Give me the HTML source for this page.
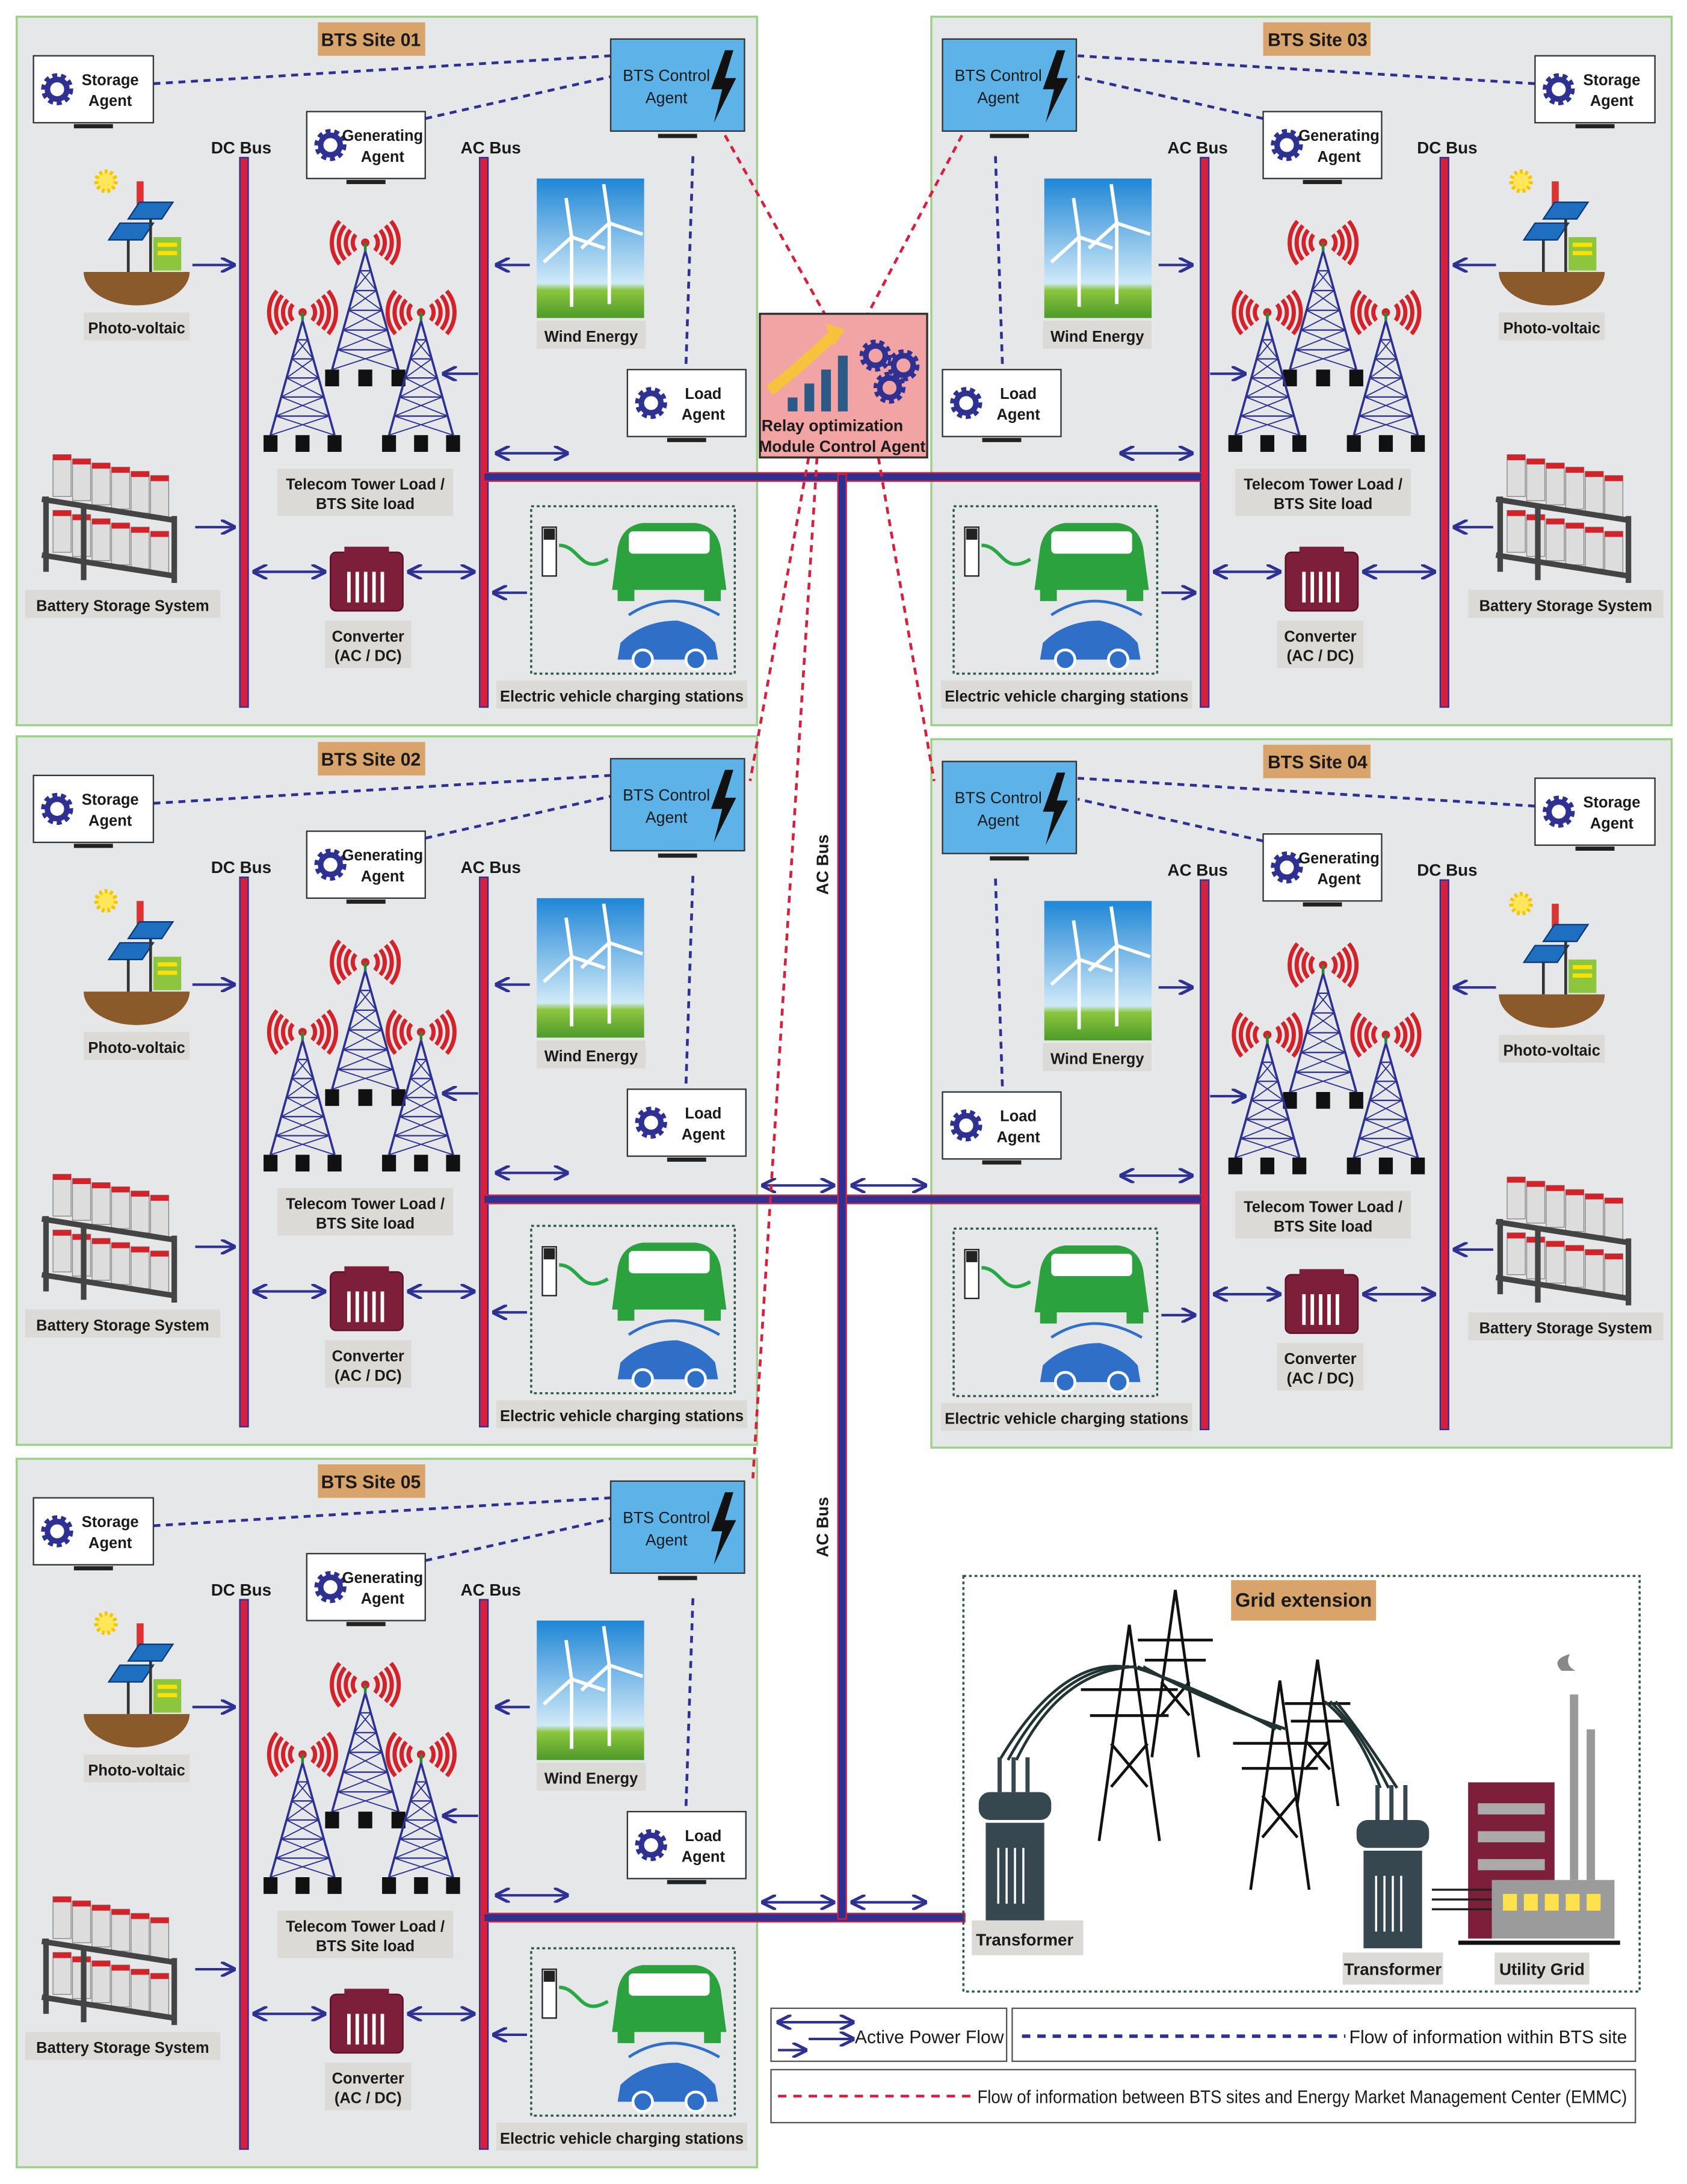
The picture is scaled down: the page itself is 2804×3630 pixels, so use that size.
<!DOCTYPE html>
<html><head><meta charset="utf-8"><style>
html,body{margin:0;padding:0;background:#fff}
svg{display:block}
text{font-family:"Liberation Sans",sans-serif;fill:#1a1a1a}
</style></head><body>
<svg id="s" width="2804" height="3630" viewBox="0 0 1210 1566" preserveAspectRatio="none" xmlns="http://www.w3.org/2000/svg">
<defs>
<marker id="ah" viewBox="0 0 10 10" refX="9" refY="5" markerWidth="6" markerHeight="6" orient="auto-start-reverse"><path d="M0,0 L10,5 L0,10" fill="none" stroke="#2e3192" stroke-width="2"/></marker>
<linearGradient id="sky" x1="0" y1="0" x2="0" y2="1"><stop offset="0" stop-color="#1f86d6"/><stop offset="0.75" stop-color="#cfe9f8"/><stop offset="0.8" stop-color="#8cc63f"/><stop offset="1" stop-color="#4e9a2a"/></linearGradient>
</defs>
<g id="root"></g>
</svg>
<script>
let o='';
const NAVY='#2e3192',RED='#d4213d';
function T(x,y,s,sz,anc,w,fill){return `<text x="${x}" y="${y}" font-size="${sz||12}" text-anchor="${anc||'middle'}" font-weight="${w||'bold'}" ${fill?`style="fill:${fill}"`:''}>${s}</text>`;}
function R(x,y,w,h,f,st,sw,extra){return `<rect x="${x}" y="${y}" width="${w}" height="${h}" fill="${f}" ${st?`stroke="${st}" stroke-width="${sw||1}"`:''} ${extra||''}/>`;}
function L(x1,y1,x2,y2,c,w,extra){return `<line x1="${x1}" y1="${y1}" x2="${x2}" y2="${y2}" stroke="${c}" stroke-width="${w||1}" ${extra||''}/>`;}
function arr(x1,y1,x2,y2,both){return `<line x1="${x1}" y1="${y1}" x2="${x2}" y2="${y2}" stroke="${NAVY}" stroke-width="1.8" marker-end="url(#ah)" ${both?'marker-start="url(#ah)"':''}/>`;}
function gear(cx,cy){return `<circle cx="${cx}" cy="${cy}" r="9" fill="none" stroke="${NAVY}" stroke-width="5" stroke-dasharray="3.2 2.4"/><circle cx="${cx}" cy="${cy}" r="7" fill="none" stroke="${NAVY}" stroke-width="4"/>`;}
function agent(x,y,w,h,l1,l2){return R(x,y,w,h,'#fff','#333',1)+gear(x+17,y+h/2)+T(x+w*0.64,y+h/2-3,l1,11)+T(x+w*0.64,y+h/2+12,l2,11)+R(x+w/2-14,y+h+1,28,3,'#222');}
function bts(x,y){return R(x,y,96,66,'#5db3e8','#333',1)+T(x+40,y+30,'BTS Control',11.5,'middle','normal')+T(x+40,y+46,'Agent',11.5,'middle','normal')+`<polygon points="${x+82},${y+8} ${x+72},${y+36} ${x+80},${y+36} ${x+74},${y+60} ${x+90},${y+28} ${x+82},${y+28} ${x+88},${y+8}" fill="#111"/>`+R(x+34,y+68,28,3,'#222');}
function arcs(cx,cy){let s='';for(const r of [9,14,19,24]){const a1=140*Math.PI/180,a2=220*Math.PI/180;
 const lx1=cx+r*Math.cos(a1),ly1=cy+r*Math.sin(a1),lx2=cx+r*Math.cos(a2),ly2=cy+r*Math.sin(a2);
 s+=`<path d="M${lx1},${ly1} A${r},${r} 0 0 1 ${lx2},${ly2}" fill="none" stroke="#d2232a" stroke-width="3"/>`;
 s+=`<path d="M${2*cx-lx1},${ly1} A${r},${r} 0 0 0 ${2*cx-lx2},${ly2}" fill="none" stroke="#d2232a" stroke-width="3"/>`;}
 return s+`<circle cx="${cx}" cy="${cy}" r="3" fill="#d2232a"/>`;}
function tower(cx,top,base){const w=(base-top)*0.28;let s=arcs(cx,top-6);
 s+=`<path d="M${cx},${top} L${cx-w},${base} M${cx},${top} L${cx+w},${base}" stroke="${NAVY}" stroke-width="1.6" fill="none"/>`;
 for(let i=1;i<6;i++){const t=i/6,y=top+(base-top)*t,hw=w*t;const t2=(i+1)/6,y2=top+(base-top)*t2,hw2=w*t2;
  s+=L(cx-hw,y,cx+hw,y,NAVY,1)+L(cx-hw,y,cx+hw2,y2,NAVY,0.8)+L(cx+hw,y,cx-hw2,y2,NAVY,0.8);}
 s+=L(cx,top,cx,top-6,'#2a8a3a',2);
 for(const dx of [-w,0,w])s+=R(cx+dx-5,base,10,12,'#111');return s;}
function pv(cx,cy){return `<path d="M${cx-38},${cy+15} A38,24 0 0 0 ${cx+38},${cy+15} Z" fill="#8a5a2b"/>`+
 `<circle cx="${cx-22}" cy="${cy-50}" r="7" fill="#ffe65a" stroke="#f5c400" stroke-width="3" stroke-dasharray="2 2"/>`+
 R(cx,cy-50,5,22,'#d33')+
 `<polygon points="${cx-12},${cy-20} ${cx+12},${cy-20} ${cx+4},${cy-8} ${cx-20},${cy-8}" fill="#1f6fc0" stroke="#0b3a7a"/>`+
 `<polygon points="${cx+2},${cy-35} ${cx+26},${cy-35} ${cx+18},${cy-23} ${cx-6},${cy-23}" fill="#1f6fc0" stroke="#0b3a7a"/>`+
 L(cx-6,cy-8,cx-6,cy+15,'#333',2)+L(cx+10,cy-23,cx+10,cy+15,'#333',2)+
 R(cx+12,cy-10,20,24,'#8cc63f')+R(cx+15,cy-6,14,3,'#ffe000')+R(cx+15,cy,14,3,'#ffe000');}
function wind(x,y){let s=R(x,y,77,100,'url(#sky)');
 for(const [tx,ty,h] of [[x+25,y+42,50],[x+52,y+32,58]]){s+=L(tx,ty,tx,ty+h,'#fff',2.5)+
  `<path d="M${tx},${ty} L${tx-4},${ty-28} M${tx},${ty} L${tx+24},${ty+8} M${tx},${ty} L${tx-20},${ty+18}" stroke="#fff" stroke-width="2.5"/>`;}
 return s;}
function battery(x,y){let s='';
 for(const yy of [y+8,y+48]){for(let i=0;i<6;i++){s+=R(x+8+i*14,yy+i*3,13,30,'#ddd','#888',0.6)+R(x+8+i*14,yy+i*3,13,4,'#d2232a');}}
 s+=`<path d="M${x},${y+40} L${x+95},${y+55} M${x},${y+80} L${x+95},${y+95} M${x+3},${y+38} L${x+3},${y+92} M${x+95},${y+52} L${x+95},${y+100} M${x+30},${y+45} L${x+30},${y+98}" stroke="#444" stroke-width="4" fill="none"/>`;return s;}
function conv(x,y){let s=R(x,y+4,52,42,'#7d1f3a','#5a1028',1,'rx="4"')+R(x+10,y,32,6,'#7d1f3a');
 for(let i=0;i<5;i++)s+=R(x+12+i*6,y+18,2.5,22,'#fff');return s;}
function ev(x,y){let s=R(x,y,146,120,'none','#2d5a45',1.5,'stroke-dasharray="2 2"');
 s+=R(x+8,y+15,10,35,'#fff','#222',1)+R(x+9,y+16,8,8,'#222');
 s+=`<path d="M${x+20},${y+28} C${x+35},${y+28} ${x+35},${y+50} ${x+55},${y+38}" stroke="#28a745" stroke-width="2.5" fill="none"/>`;
 s+=`<path d="M${x+58},${y+60} L${x+62},${y+30} Q${x+65},${y+14} ${x+80},${y+12} L${x+118},${y+12} Q${x+133},${y+14} ${x+136},${y+30} L${x+140},${y+60} Z" fill="#2ca23f"/>`+R(x+70,y+18,58,16,'#fff','none',0,'rx="3"')+R(x+62,y+58,12,10,'#2ca23f')+R(x+124,y+58,12,10,'#2ca23f');
 s+=`<path d="M${x+62},${y+110} L${x+64},${y+98} Q${x+80},${y+82} ${x+105},${y+82} Q${x+122},${y+86} ${x+132},${y+98} L${x+134},${y+110} Z" fill="#2f6fc7"/>`+`<circle cx="${x+80}" cy="${y+110}" r="7" fill="#2f6fc7" stroke="#fff" stroke-width="2"/><circle cx="${x+118}" cy="${y+110}" r="7" fill="#2f6fc7" stroke="#fff" stroke-width="2"/>`;
 s+=`<path d="M${x+70},${y+78} Q${x+100},${y+58} ${x+135},${y+78}" stroke="#2f6fc7" stroke-width="2" fill="none"/>`;return s;}
function lab(cx,y,w,lines){let s=R(cx-w/2,y,w,lines.length*14+6,'#dcdad6');lines.forEach((l,i)=>s+=T(cx,y+15+i*14,l,11));return s;}

function site(dy,title,m){
 const X=x=>m?1211-x:x, RX=(x,w)=>m?1211-x-w:x;
 let s='';
 s+=R(RX(12,531),12+dy,531,508,'#e6e7e9','#9fd08a',1.5);
 s+=R(RX(228,77),16+dy,77,24,'#d8a46c')+T(X(266),33+dy,title,13);
 s+=L(X(110),60+dy,X(438),40+dy,NAVY,2,'stroke-dasharray="5 4"')+L(X(305),85+dy,X(438),55+dy,NAVY,2,'stroke-dasharray="5 4"')+L(X(497),112+dy,X(492),262+dy,NAVY,2,'stroke-dasharray="5 4"');
 s+=agent(RX(24,86),40+dy,86,48,'Storage','Agent');
 s+=agent(RX(220,85),80+dy,85,48,'Generating','Agent');
 s+=agent(RX(450,85),265+dy,85,48,'Load','Agent');
 s+=bts(RX(438,97),28+dy);
 s+=R(RX(172,6),113+dy,6,394,RED,NAVY,1)+R(RX(344,6),113+dy,6,394,RED,NAVY,1);
 s+=T(X(173),110+dy,'DC Bus',12)+T(X(352),110+dy,'AC Bus',12);
 s+=pv(X(98),180+dy)+lab(X(98),224+dy,76,['Photo-voltaic']);
 s+=wind(RX(385,77),128+dy)+lab(X(424),230+dy,78,['Wind Energy']);
 s+=tower(X(262),180+dy,265+dy)+tower(X(217),230+dy,312+dy)+tower(X(302),230+dy,312+dy);
 s+=lab(X(262),336+dy,126,['Telecom Tower Load /','BTS Site load']);
 s+=`<g transform="translate(${m?X(30)-108:30},0)">`+battery(0,318+dy)+`</g>`+lab(X(88),423+dy,140,['Battery Storage System']);
 s+=conv(RX(237,52),392+dy)+lab(X(264),445+dy,62,['Converter','(AC / DC)']);
 s+=ev(RX(381,146),363+dy)+lab(X(446),488+dy,180,['Electric vehicle charging stations']);
 s+=arr(X(138),190+dy,X(168),190+dy)+arr(X(140),378+dy,X(168),378+dy)+arr(X(380),190+dy,X(356),190+dy)+arr(X(343),268+dy,X(318),268+dy)
  +arr(X(182),410+dy,X(233),410+dy,1)+arr(X(293),410+dy,X(340),410+dy,1)+arr(X(378),425+dy,X(354),425+dy)+arr(X(356),325+dy,X(407),325+dy,1);
 return s;}
o+=site(0,'BTS Site 01',0)+site(0,'BTS Site 03',1)+site(516,'BTS Site 02',0)+site(518,'BTS Site 04',1)+site(1034,'BTS Site 05',0);
o+=R(347,339,515,6,NAVY,RED,1)+R(347,857,515,6,NAVY,RED,1)+R(347,1372,345,6,NAVY,RED,1);
o+=R(601,340,6,1036,NAVY,RED,1);
o+=`<text transform="translate(594,620) rotate(-90)" font-size="12" text-anchor="middle" font-weight="bold">AC Bus</text>`;
o+=`<text transform="translate(594,1095) rotate(-90)" font-size="12" text-anchor="middle" font-weight="bold">AC Bus</text>`;
o+=arr(547,850,598,850,1)+arr(611,850,664,850,1)+arr(547,1364,598,1364,1)+arr(611,1364,664,1364,1);
const rd='stroke-dasharray="5 4"';
o+=L(520,97,592,226,RED,2,rd)+L(690,97,622,226,RED,2,rd)+L(580,328,538,560,RED,2,rd)+L(630,328,670,560,RED,2,rd)+L(586,328,540,1060,RED,2,rd);
o+=R(545,225,120,103,'#f2a3a3','#333',1.5);
o+=`<path d="M552,280 Q575,262 598,240" stroke="#f7c23c" stroke-width="8" fill="none"/><polygon points="592,232 606,236 598,248" fill="#f7c23c"/>`;
o+=R(565,285,7,10,'#2b5a86')+R(577,275,7,20,'#2b5a86')+R(589,265,7,30,'#2b5a86')+R(601,255,7,40,'#2b5a86');
o+=gear(628,255)+gear(648,262)+gear(638,278);
o+=T(597,309,'Relay optimization',11.5)+T(604,324,'Module Control Agent',11.5);
o+=R(691,1130,485,298,'none','#2d5a45',1.5,'stroke-dasharray="2 2"');
o+=R(883,1133,104,29,'#d8a46c')+T(935,1152,'Grid extension',14);
function pylon(cx,top,base){const w=(base-top)*0.14;return `<path d="M${cx},${top} L${cx-w},${base} M${cx},${top} L${cx+w},${base} M${cx-w*1.6},${top+(base-top)*0.3} L${cx+w*1.6},${top+(base-top)*0.3} M${cx-w*1.3},${top+(base-top)*0.42} L${cx+w*1.3},${top+(base-top)*0.42} M${cx-w*0.6},${top+(base-top)*0.55} L${cx+w*0.6},${top+(base-top)*0.75} M${cx+w*0.6},${top+(base-top)*0.55} L${cx-w*0.6},${top+(base-top)*0.75}" stroke="#111" stroke-width="2" fill="none"/>`;}
o+=pylon(843,1140,1260)+pylon(945,1190,1295)+pylon(810,1165,1320)+pylon(918,1205,1355);
for(let i=0;i<3;i++){o+=`<path d="M${717+i*6},${1262} Q${760},${1190+i*4} ${806+i*4},${1195}" stroke="#233" stroke-width="2" fill="none"/>`;
 o+=`<path d="M${812+i*4},${1195} Q${860},${1210+i*4} ${915+i*4},${1240}" stroke="#233" stroke-width="2" fill="none"/>`;
 o+=`<path d="M${950+i*4},${1220} Q${975},${1240} ${990+i*6},${1282}" stroke="#233" stroke-width="2" fill="none"/>`;}
function xf(x,y){return `<path d="M${x+15},${y-25} L${x+15},${y} M${x+25},${y-25} L${x+25},${y} M${x+35},${y-25} L${x+35},${y}" stroke="#37474f" stroke-width="3"/>`+R(x,y,52,20,'#37474f','none',0,'rx="8"')+R(x+5,y+22,42,70,'#37474f')+`<path d="M${x+14},${y+40} v40 M${x+20},${y+40} v40 M${x+26},${y+40} v40 M${x+32},${y+40} v40" stroke="#fff" stroke-width="1.5"/>`;}
o+=xf(702,1285)+xf(973,1305);
o+=R(1053,1278,62,112,'#7d1f3a')+R(1060,1293,48,8,'#aaa')+R(1060,1313,48,8,'#aaa')+R(1060,1333,48,8,'#aaa');
o+=R(1070,1348,88,42,'#9b9b9b')+R(1126,1215,6,133,'#999')+R(1138,1240,6,108,'#999');
for(let i=0;i<5;i++)o+=R(1078+i*15,1358,10,12,'#ffe14d');
o+=L(1027,1355,1070,1355,'#222',1.5)+L(1027,1362,1070,1362,'#222',1.5)+L(1027,1369,1070,1369,'#222',1.5)+L(1046,1393,1162,1393,'#111',3);
o+=`<path d="M1120,1198 q-8,-8 6,-12 q-4,8 4,12" fill="#888"/>`;
o+=R(697,1377,80,25,'#dcdad6')+T(735,1395,'Transformer',12)+R(963,1400,72,23,'#dcdad6')+T(999,1416,'Transformer',12)+R(1072,1400,68,23,'#dcdad6')+T(1106,1416,'Utility Grid',12);
o+=R(553,1440,169,38,'#fff','#555',1)+R(726,1440,447,38,'#fff','#555',1)+R(553,1484,620,38,'#fff','#555',1);
o+=arr(558,1450,612,1450,1)+arr(558,1470,578,1470)+arr(580,1462,612,1462);
o+=T(720,1465,'Active Power Flow',13,'end','normal');
o+=L(733,1460,965,1460,NAVY,2.5,'stroke-dasharray="6 5"')+T(1167,1465,'Flow of information within BTS site',13,'end','normal');
o+=L(558,1503,698,1503,RED,2,'stroke-dasharray="6 5"');
o+=`<text x="701" y="1508" font-size="13" textLength="466" lengthAdjust="spacingAndGlyphs">Flow of information between BTS sites and Energy Market Management Center (EMMC)</text>`;
document.getElementById('root').innerHTML=o;
</script>
</body></html>
